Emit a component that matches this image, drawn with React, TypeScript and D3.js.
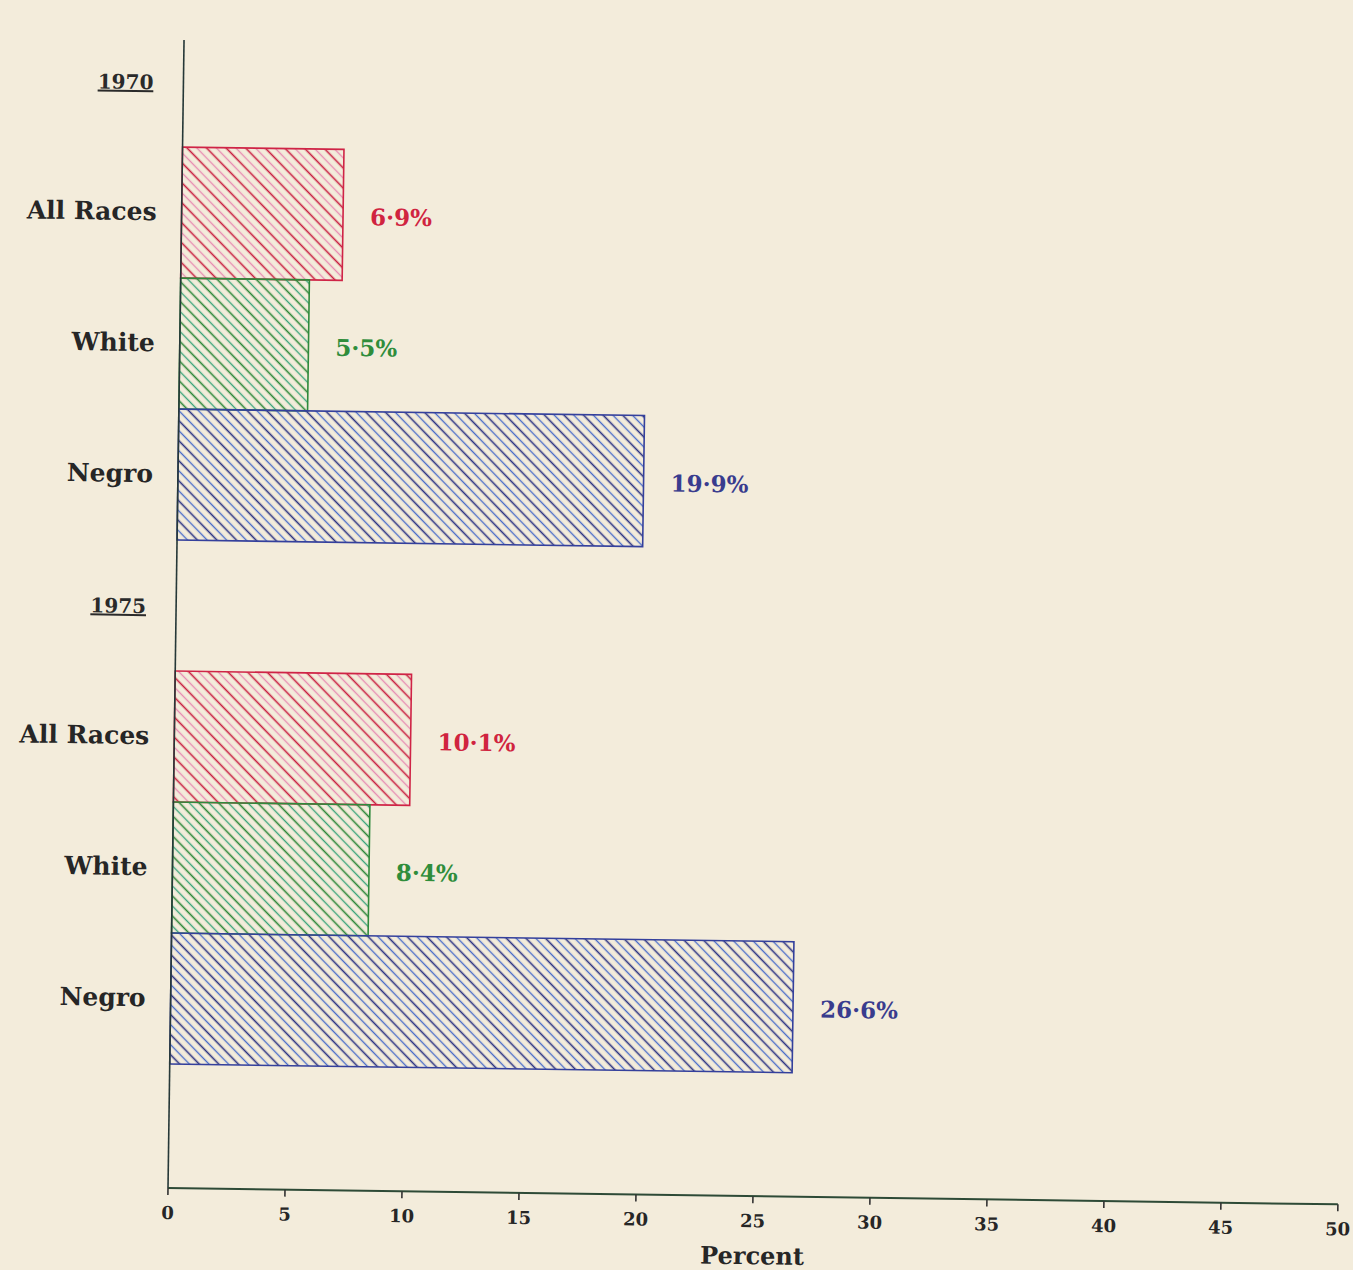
import React from "react";
import * as d3 from "d3";

const years = ["1970", "1975"];
const races = ["All Races", "White", "Negro"];
const values1970 = [6.9, 5.5, 19.9];
const values1975 = [10.1, 8.4, 26.6];
const xTicks = [0, 5, 10, 15, 20, 25, 30, 35, 40, 45, 50];
const xTitle = "Percent";

const raceStyles: Record<string, { stroke: string; dark: string; light: string; text: string }> = {
  "All Races": { stroke: "#cf2446", dark: "#c81e40", light: "#e78cb2", text: "#d0243f" },
  White: { stroke: "#2f8a3c", dark: "#2a8636", light: "#3aa47a", text: "#2f8d3b" },
  Negro: { stroke: "#34409c", dark: "#2a3282", light: "#4a6cc8", text: "#393c8e" },
};

const W = 1353;
const H = 1270;
const ox = 168;
const oy = 1188;
const angle = 0.8;

const fmt = (v: number) => d3.format(".1f")(v).replace(".", "·") + "%";

export default function App() {
  const rows: { key: string; kind: "year" | "bar"; label: string; value?: number }[] = [];
  const groups = [values1970, values1975];
  years.forEach((yr, gi) => {
    rows.push({ key: yr, kind: "year", label: yr });
    races.forEach((r, ri) => rows.push({ key: yr + "-" + r, kind: "bar", label: r, value: groups[gi][ri] }));
  });

  const x = d3.scaleLinear().domain([0, 50]).range([ox, 1338]);
  const y = d3.scaleBand().domain(rows.map((r) => r.key)).range([16, 1064]).paddingInner(0);
  const font = "'DejaVu Serif', 'Liberation Serif', serif";

  return (
    <svg width={W} height={H} style={{ position: "absolute", left: 0, top: 0, background: "#f3ecdb" }}>
      <defs>
        {races.map((r) => {
          const s = raceStyles[r];
          return (
            <pattern
              key={r}
              id={"hatch-" + r.replace(" ", "")}
              patternUnits="userSpaceOnUse"
              width={14}
              height={14}
              patternTransform="rotate(-45)"
            >
              <line x1={3.5} y1={0} x2={3.5} y2={14} stroke={s.dark} strokeWidth={1.6} />
              <line x1={10.5} y1={0} x2={10.5} y2={14} stroke={s.light} strokeWidth={1.4} />
            </pattern>
          );
        })}
      </defs>
      <rect x={0} y={0} width={W} height={H} fill="#f3ecdb" />
      <g transform={`rotate(${angle}, ${ox}, ${oy})`}>
        {rows.map((r) => {
          const y0 = y(r.key)!;
          const bh = y.bandwidth();
          if (r.kind === "year") {
            return (
              <text
                key={r.key}
                x={ox - 30}
                y={y0 + bh / 2 + 8}
                textAnchor="end"
                fontFamily={font}
                fontWeight="bold"
                fontSize={20}
                fill="#2a2a2a"
                style={{ textDecoration: "underline" }}
              >
                {r.label}
              </text>
            );
          }
          const s = raceStyles[r.label];
          const xe = x(r.value!);
          return (
            <g key={r.key}>
              <rect
                x={ox}
                y={y0}
                width={xe - ox}
                height={bh}
                fill={`url(#hatch-${r.label.replace(" ", "")})`}
                stroke={s.stroke}
                strokeWidth={1.6}
              />
              <text
                x={ox - 25}
                y={y0 + bh / 2 + 8}
                textAnchor="end"
                fontFamily={font}
                fontWeight="bold"
                fontSize={25}
                fill="#262626"
              >
                {r.label}
              </text>
              <text
                x={xe + 27}
                y={y0 + bh / 2 + 10}
                textAnchor="start"
                fontFamily={font}
                fontWeight="bold"
                fontSize={23}
                fill={s.text}
              >
                {fmt(r.value!)}
              </text>
            </g>
          );
        })}
        <line x1={ox} y1={40} x2={ox} y2={oy} stroke="#263838" strokeWidth={1.6} />
        <line x1={ox} y1={oy} x2={x(50)} y2={oy} stroke="#2d4a36" strokeWidth={2} />
        {xTicks.map((t) => (
          <g key={t}>
            <line x1={x(t)} y1={oy} x2={x(t)} y2={oy + 7} stroke="#333" strokeWidth={1.6} />
            <text
              x={x(t)}
              y={oy + 31}
              textAnchor="middle"
              fontFamily={font}
              fontWeight="bold"
              fontSize={18}
              fill="#262626"
            >
              {t}
            </text>
          </g>
        ))}
        <text
          x={(x(0) + x(50)) / 2}
          y={oy + 68}
          textAnchor="middle"
          fontFamily={font}
          fontWeight="bold"
          fontSize={24}
          fill="#262626"
        >
          {xTitle}
        </text>
      </g>
    </svg>
  );
}
